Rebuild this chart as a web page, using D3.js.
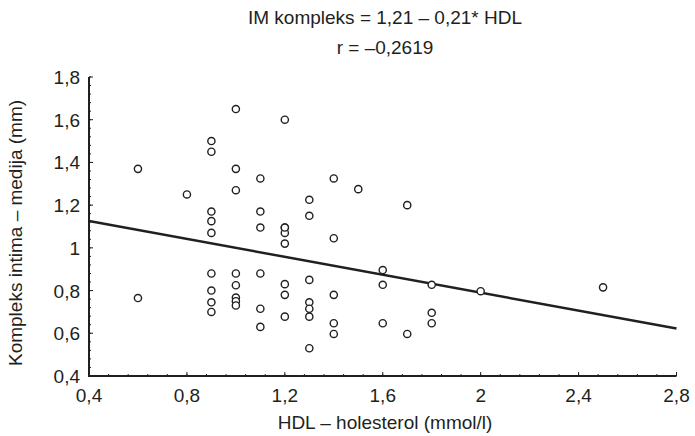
<!DOCTYPE html>
<html>
<head>
<meta charset="utf-8">
<script src="https://cdn.jsdelivr.net/npm/d3@7"></script>
<style>
  body { margin: 0; background: #fff; }
  svg text { font-family: "Liberation Sans", Arial, sans-serif; fill: #231f20; }
</style>
</head>
<body>
<div id="chart"></div>
<script>
// HDL (mmol/l) vs IM complex (mm)
const hdl = [
  0.6, 0.6,
  0.8,
  0.9, 0.9, 0.9, 0.9, 0.9, 0.9, 0.9, 0.9, 0.9,
  1.0, 1.0, 1.0, 1.0, 1.0, 1.0, 1.0, 1.0,
  1.1, 1.1, 1.1, 1.1, 1.1, 1.1,
  1.2, 1.2, 1.2, 1.2, 1.2, 1.2, 1.2, 1.2,
  1.3, 1.3, 1.3, 1.3, 1.3, 1.3, 1.3,
  1.4, 1.4, 1.4, 1.4, 1.4,
  1.5,
  1.6, 1.6, 1.6,
  1.7, 1.7,
  1.8, 1.8, 1.8,
  2.0,
  2.5
];
const imc = [
  1.37, 0.765,
  1.25,
  1.50, 1.45, 1.17, 1.125, 1.07, 0.88, 0.80, 0.745, 0.70,
  1.65, 1.37, 1.27, 0.88, 0.825, 0.767, 0.75, 0.73,
  1.325, 1.17, 1.095, 0.88, 0.715, 0.63,
  1.60, 1.095, 1.07, 1.02, 0.83, 0.78, 0.678, 1.095,
  1.225, 1.15, 0.85, 0.745, 0.715, 0.678, 0.53,
  1.325, 1.045, 0.78, 0.647, 0.597,
  1.275,
  0.896, 0.827, 0.647,
  1.20, 0.597,
  0.827, 0.696, 0.647,
  0.797,
  0.815
];
const intercept = 1.21;
const slope = -0.21;
const xTicks = [0.4, 0.8, 1.2, 1.6, 2.0, 2.4, 2.8];
const yTicks = [0.4, 0.6, 0.8, 1.0, 1.2, 1.4, 1.6, 1.8];
const titleLines = ["IM kompleks = 1,21 \u2013 0,21* HDL", "r = \u20130,2619"];
const xTitle = "HDL \u2013 holesterol (mmol/l)";
const yTitle = "Kompleks intima \u2013 medija (mm)";

const width = 695, height = 436;
const fmt = v => (Math.round(v * 10) / 10).toString().replace(".", ",");

const svg = d3.select("#chart").append("svg")
  .attr("width", width).attr("height", height);

const x = d3.scaleLinear().domain([0.4, 2.8]).range([89, 676.5]);
const y = d3.scaleLinear().domain([0.4, 1.8]).range([376, 77]);

const ink = "#231f20";
const fs = 19;

// minor ticks
const xMinor = d3.range(0, 31).map(i => 0.4 + i * 0.08);
const yMinor = d3.range(0, 36).map(i => 0.4 + i * 0.04);

svg.append("g").selectAll("line").data(xMinor).join("line")
  .attr("x1", d => x(d)).attr("x2", d => x(d))
  .attr("y1", y(0.4)).attr("y2", y(0.4) - 2)
  .attr("stroke", ink).attr("stroke-width", 1);
svg.append("g").selectAll("line").data(xTicks).join("line")
  .attr("x1", d => x(d)).attr("x2", d => x(d))
  .attr("y1", y(0.4)).attr("y2", y(0.4) - 4)
  .attr("stroke", ink).attr("stroke-width", 1);
svg.append("g").selectAll("line").data(yMinor).join("line")
  .attr("x1", x(0.4)).attr("x2", x(0.4) + 2)
  .attr("y1", d => y(d)).attr("y2", d => y(d))
  .attr("stroke", ink).attr("stroke-width", 1);
svg.append("g").selectAll("line").data(yTicks).join("line")
  .attr("x1", x(0.4)).attr("x2", x(0.4) + 4)
  .attr("y1", d => y(d)).attr("y2", d => y(d))
  .attr("stroke", ink).attr("stroke-width", 1);

// axis lines
svg.append("path")
  .attr("d", `M${x(0.4)},${y(1.8)}V${y(0.4)}H${x(2.8)}`)
  .attr("fill", "none").attr("stroke", ink).attr("stroke-width", 2);

// tick labels
svg.append("g").selectAll("text").data(xTicks).join("text")
  .attr("x", d => x(d)).attr("y", 402)
  .attr("text-anchor", "middle").attr("font-size", fs)
  .text(fmt);
svg.append("g").selectAll("text").data(yTicks).join("text")
  .attr("x", 80).attr("y", d => y(d) + 7)
  .attr("text-anchor", "end").attr("font-size", fs)
  .text(fmt);

// titles
svg.append("g").selectAll("text").data(titleLines).join("text")
  .attr("x", 385).attr("y", (d, i) => 24 + i * 30)
  .attr("text-anchor", "middle").attr("font-size", fs)
  .text(d => d);
svg.append("text")
  .attr("x", 385).attr("y", 429)
  .attr("text-anchor", "middle").attr("font-size", fs)
  .text(xTitle);
svg.append("text")
  .attr("transform", "translate(22,233) rotate(-90)")
  .attr("text-anchor", "middle").attr("font-size", fs)
  .text(yTitle);

// regression line
const line = d3.line().x(d => x(d)).y(d => y(intercept + slope * d));
svg.append("path")
  .datum([0.4, 2.8])
  .attr("d", line)
  .attr("fill", "none").attr("stroke", ink).attr("stroke-width", 2.5);

// points
svg.append("g").selectAll("circle").data(hdl).join("circle")
  .attr("cx", d => x(d))
  .attr("cy", (d, i) => y(imc[i]))
  .attr("r", 3.6)
  .attr("fill", "#fff")
  .attr("stroke", ink).attr("stroke-width", 1.4);
</script>
</body>
</html>
